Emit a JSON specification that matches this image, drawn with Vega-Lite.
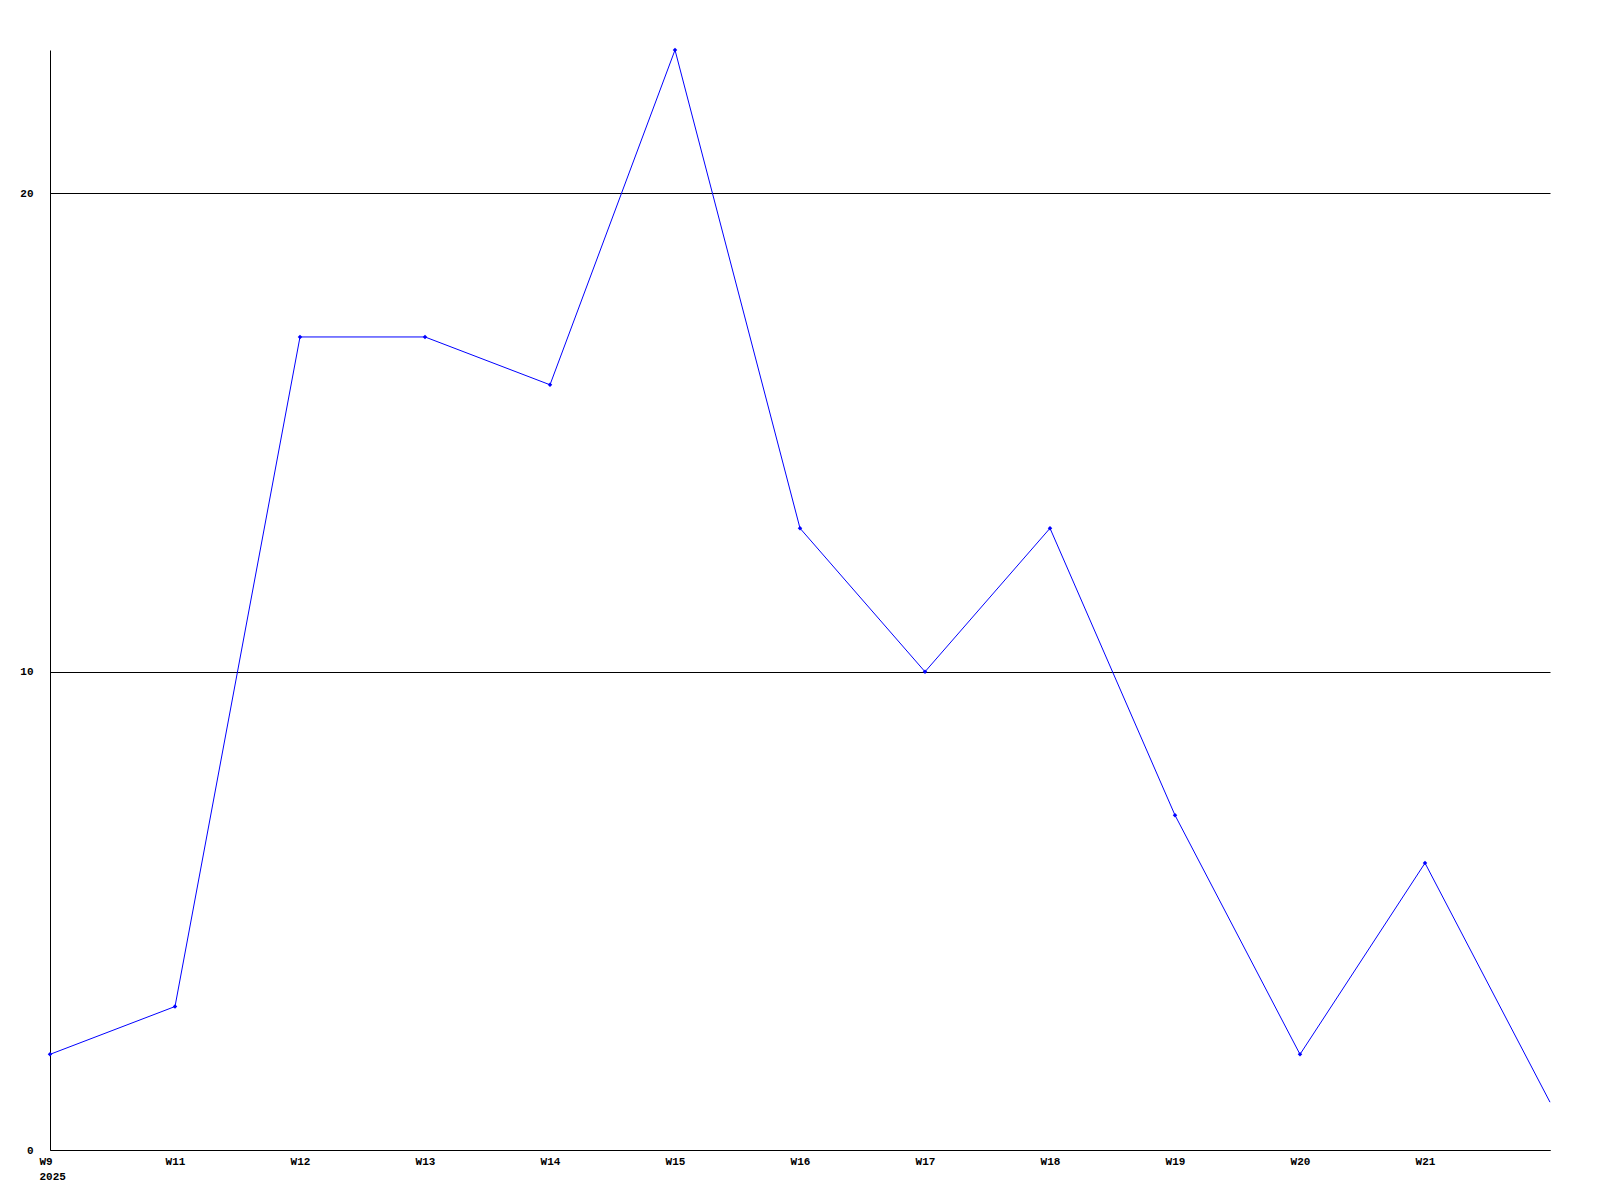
{
  "$schema": "https://vega.github.io/schema/vega-lite/v6.json",
  "width": 1500,
  "height": 1100,
  "autosize": {"type": "none"},
  "padding": {"left": 50, "top": 50, "right": 50, "bottom": 50},
  "background": "white",
  "config": {
    "view": {"stroke": null},
    "axis": {"labelFont": "Liberation Mono", "labelFontWeight": "bold", "labelFontSize": 11, "labelColor": "black"}
  },
  "data": {
    "values": [
      {"week": "W9", "value": 2},
      {"week": "W11", "value": 3},
      {"week": "W12", "value": 17},
      {"week": "W13", "value": 17},
      {"week": "W14", "value": 16},
      {"week": "W15", "value": 23},
      {"week": "W16", "value": 13},
      {"week": "W17", "value": 10},
      {"week": "W18", "value": 13},
      {"week": "W19", "value": 7},
      {"week": "W20", "value": 2},
      {"week": "W21", "value": 6},
      {"week": "W22", "value": 1}
    ]
  },
  "encoding": {
    "x": {
      "field": "week", "type": "ordinal", "sort": null,
      "scale": {"type": "point", "padding": 0},
      "axis": {
        "title": null, "labelAngle": 0, "ticks": false, "domainColor": "black", "domainWidth": 1,
        "labelPadding": 5, "labelBaseline": "top", "labelLineHeight": 15,
        "labelAlign": {"condition": {"test": "datum.value == 'W9'", "value": "left"}, "value": "center"},
        "labelOffset": {"condition": {"test": "datum.value == 'W9'", "value": -11}, "value": 0},
        "labelExpr": "datum.value == 'W9' ? ['W9', '2025'] : (datum.value == 'W22' ? '' : datum.value)"
      }
    },
    "y": {
      "field": "value", "type": "quantitative",
      "scale": {"domain": [0, 23], "nice": false, "zero": true},
      "axis": {
        "title": null, "values": [0, 10, 20], "ticks": false, "grid": true, "gridColor": "black", "gridOpacity": 1,
        "gridWidth": 1, "domainColor": "black", "labelPadding": 17, "labelAlign": "right"
      }
    }
  },
  "layer": [
    {"mark": {"type": "line", "color": "#0000ff", "strokeWidth": 1}},
    {
      "transform": [{"filter": "datum.week != 'W22'"}],
      "mark": {"type": "point", "shape": "diamond", "filled": true, "color": "#0000ff", "size": 20, "opacity": 1}
    }
  ]
}
